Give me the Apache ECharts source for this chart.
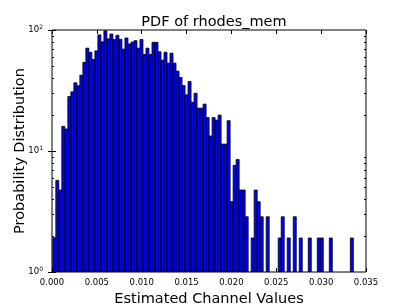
<!DOCTYPE html>
<html>
<head>
<meta charset="utf-8">
<script src="https://cdn.jsdelivr.net/npm/echarts@6/dist/echarts.min.js"></script>
<style>
html,body{margin:0;padding:0;background:#fff;}
#chart{width:407px;height:305px;}
</style>
</head>
<body>
<div id="chart"></div>
<script>
// Histogram bins (100 bins)
const binStart = 0.00009;
const binWidth = 0.000335;
// Probability density per bin (null = empty / below axis)
const density = [
  1.92, 5.72, 4.76, 16.0, 15.2, 28.2, 30.8, 36.6, 34.6, 42.3,
  54.1, 70.8, 65.4, 57.1, 67.2, 91.1, 79.8, 98.4, 84.5, 92.7,
  83.2, 90.4, 83.8, 69.5, 85.9, 76.6, 79.4, 81.6, 70.8, 83.5,
  62.8, 70.8, 62.8, 79.1, 79.1, 66.0, 56.3, 65.4, 53.2, 64.3,
  53.2, 45.7, 40.5, 34.8, 29.1, 37.5, 25.3, 30.0, 22.6, 22.6,
  24.4, 18.9, 13.3, 18.9, 18.0, 19.8, 11.4, 11.4, 17.8, 3.81,
  7.6, 8.5, 4.76, 4.76, 2.86, null, 1.91, 4.76, 3.81, 2.86,
  null, 2.86, null, null, null, 1.91, 2.86, null, 1.91, null,
  2.86, null, 1.91, null, null, 1.91, null, null, 1.91, 1.91,
  null, null, 1.91, null, null, null, null, null, null, 1.91
];
const xTicks = [0, 0.005, 0.010, 0.015, 0.020, 0.025, 0.030, 0.035];
const minorTickValues = [2,3,4,5,6,7,8,9,20,30,40,50,60,70,80,90];

const barData = [];
density.forEach((v, i) => {
  if (v !== null) {
    const x0 = binStart + i * binWidth;
    barData.push([x0, x0 + binWidth, v]);
  }
});

const chart = echarts.init(document.getElementById('chart'), null, {renderer: 'canvas'});
const FONT = 'DejaVu Sans';
const grid = {left: 52, right: 41, top: 30, bottom: 33};

const xBase = {
  type: 'value', min: 0, max: 0.035, interval: 0.005,
  axisLine: {show: false},
  axisTick: {show: true, inside: true, length: 4, lineStyle: {color: '#000', width: 1}},
  splitLine: {show: false}
};
const yBase = {
  type: 'log', logBase: 10, min: 1, max: 100,
  axisLine: {show: false},
  axisTick: {show: true, inside: true, length: 4, lineStyle: {color: '#000', width: 1}},
  splitLine: {show: false},
  minorTick: {show: false}
};

chart.setOption({
  animation: false,
  backgroundColor: '#fff',
  title: {
    text: 'PDF of rhodes_mem',
    left: 209, top: 10, textAlign: 'center',
    textStyle: {fontFamily: FONT, fontSize: 14.5, fontWeight: 'normal', color: '#000'}
  },
  grid: Object.assign({show: true, borderColor: '#000', borderWidth: 1, backgroundColor: 'transparent',
    containLabel: false, outerBoundsMode: 'none'}, grid),
  xAxis: [
    Object.assign({}, xBase, {
      position: 'bottom',
      name: 'Estimated Channel Values', nameLocation: 'middle', nameGap: 20,
      nameMoveOverlap: false,
      nameTextStyle: {fontFamily: FONT, fontSize: 14.5, color: '#000'},
      axisLabel: {show: true, margin: 6, fontFamily: FONT, fontSize: 8.5, color: '#000',
        customValues: xTicks,
        formatter: v => v.toFixed(3)}
    }),
    Object.assign({}, xBase, {position: 'top', axisLabel: {show: false}})
  ],
  yAxis: [
    Object.assign({}, yBase, {
      position: 'left',
      name: 'Probability Distribution', nameLocation: 'middle', nameGap: 24,
      nameMoveOverlap: false,
      nameTextStyle: {fontFamily: FONT, fontSize: 14.5, color: '#000'},
      axisLabel: {show: true, margin: 9, fontFamily: FONT, color: '#000',
        formatter: v => '{b|10}{s|' + Math.round(Math.log10(v)) + '}',
        rich: {
          b: {fontFamily: FONT, fontSize: 8.5, lineHeight: 11, color: '#000'},
          s: {fontFamily: FONT, fontSize: 6, lineHeight: 11, verticalAlign: 'top', padding: [0, 0, 6, 0], color: '#000'}
        }}
    }),
    Object.assign({}, yBase, {position: 'right', axisLabel: {show: false}})
  ],
  series: [
    {
      type: 'custom',
      xAxisIndex: 0, yAxisIndex: 0,
      data: barData,
      encode: {x: [0, 1], y: 2},
      clip: true,
      renderItem: function (params, api) {
        const x0 = api.value(0), x1 = api.value(1), v = api.value(2);
        const pTop = api.coord([x0, v]);
        const pBot = api.coord([x1, 1]);
        return {
          type: 'rect',
          shape: {x: pTop[0], y: pTop[1], width: pBot[0] - pTop[0], height: pBot[1] - pTop[1]},
          style: {fill: '#0000ff', stroke: '#000', lineWidth: 0.8}
        };
      }
    },
    {
      type: 'custom',
      xAxisIndex: 0, yAxisIndex: 0,
      data: minorTickValues.map(v => [0, v]),
      encode: {x: 0, y: 1},
      silent: true,
      renderItem: function (params, api) {
        const cs = params.coordSys;
        const p = api.coord([0, api.value(1)]);
        const y = Math.round(p[1]) + 0.5;
        return {
          type: 'group',
          children: [
            {type: 'line', shape: {x1: cs.x, y1: y, x2: cs.x + 2, y2: y}, style: {stroke: '#000', lineWidth: 1}},
            {type: 'line', shape: {x1: cs.x + cs.width - 2, y1: y, x2: cs.x + cs.width, y2: y}, style: {stroke: '#000', lineWidth: 1}}
          ]
        };
      }
    }
  ]
});
</script>
</body>
</html>
